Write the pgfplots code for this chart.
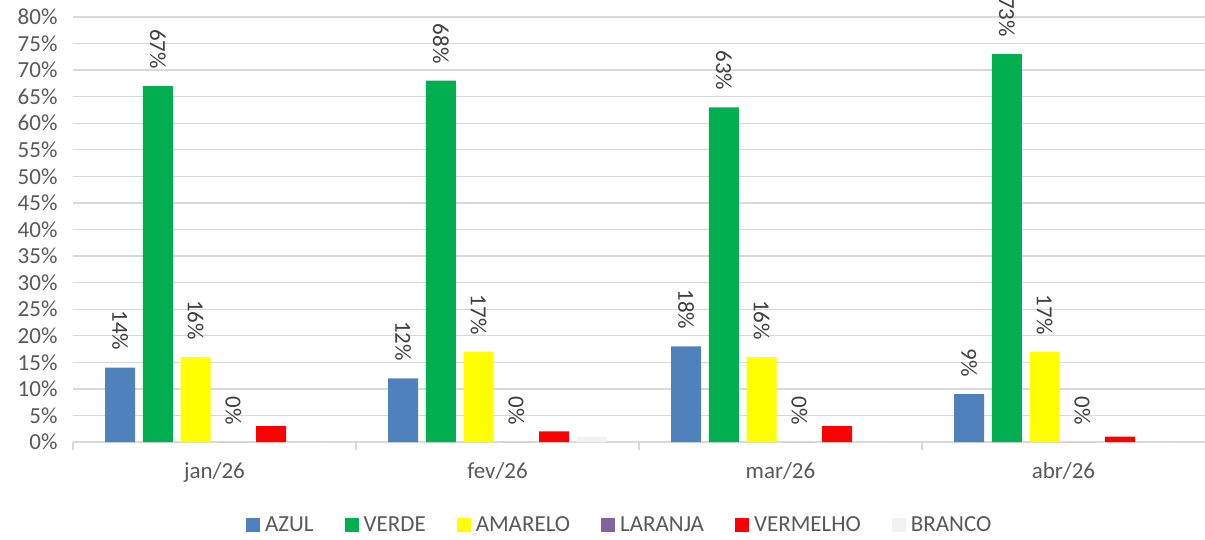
\documentclass[border=0pt]{standalone}
\usepackage{fontspec}
\setmainfont{Carlito}
\usepackage{pgfplots}
\pgfplotsset{compat=1.18}
\definecolor{cAzul}{HTML}{4F81BD}
\definecolor{cVerde}{HTML}{00B050}
\definecolor{cAmarelo}{HTML}{FFFF00}
\definecolor{cLaranja}{HTML}{8064A2}
\definecolor{cVermelho}{HTML}{FF0000}
\definecolor{cBranco}{HTML}{F2F2F2}
\definecolor{gridc}{HTML}{D9D9D9}
\definecolor{txt}{HTML}{595959}
\definecolor{lbl}{HTML}{404040}
\begin{document}
\begin{tikzpicture}
\useasboundingbox (0,0) rectangle (1205pt,539pt);
\begin{axis}[
  at={(73pt,97pt)}, anchor=south west,
  scale only axis, width=1132pt, height=425pt,
  ybar=7.7pt, bar width=30pt,
  xmin=-0.5, xmax=3.5, ymin=0, ymax=80,
  enlargelimits=false, clip=false,
  axis x line*=bottom, axis y line*=left,
  y axis line style={draw=none},
  x axis line style={draw=gridc, line width=1.2pt},
  ytick={0,5,...,80},
  yticklabel={\pgfmathprintnumber{\tick}\%},
  ymajorgrids, grid style={draw=gridc, line width=1.3pt},
  ytick style={draw=none},
  yticklabel style={font=\fontsize{23}{27}\selectfont, text=txt, xshift=-12pt},
  xtick={-0.5,0.5,1.5,2.5},
  xticklabels={jan/26,fev/26,mar/26,abr/26},
  xtick style={draw=gridc, line width=1.2pt},
  xtick align=outside, major tick length=8pt,
  xticklabel style={font=\fontsize{23}{27}\selectfont, text=txt, xshift=141.5pt, yshift=-9pt},
  /pgf/number format/assume math mode=true,
  legend columns=-1,
  legend style={at={(0.483,-0.195)}, anchor=center, draw=none, fill=none,
    font=\fontsize{23}{27}\selectfont, text=txt,
    /tikz/every odd column/.append style={column sep=3pt},
    /tikz/every even column/.append style={column sep=29pt}},
  legend image code/.code={\fill[#1] (0pt,-7pt) rectangle (14pt,7pt);},
  every node near coord/.append style={rotate=-90, anchor=east, inner xsep=17pt,
    font=\fontsize{23}{27}\selectfont, text=lbl},
  nodes near coords={\pgfmathprintnumber[fixed,precision=0]{\pgfplotspointmeta}\%},
]
\addplot[fill=cAzul, draw=none] coordinates {(0,14) (1,12) (2,18) (3,9)};
\addlegendentry{AZUL}
\addplot[fill=cVerde, draw=none] coordinates {(0,67) (1,68) (2,63) (3,73)};
\addlegendentry{VERDE}
\addplot[fill=cAmarelo, draw=none] coordinates {(0,16) (1,17) (2,16) (3,17)};
\addlegendentry{AMARELO}
\addplot[fill=cLaranja, draw=none] coordinates {(0,0) (1,0) (2,0) (3,0)};
\addlegendentry{LARANJA}
\addplot[fill=cVermelho, draw=none, nodes near coords={}] coordinates {(0,3) (1,2) (2,3) (3,1)};
\addlegendentry{VERMELHO}
\addplot[fill=cBranco, draw=none, nodes near coords={}] coordinates {(0,0) (1,1) (2,0) (3,0)};
\addlegendentry{BRANCO}
\end{axis}
\end{tikzpicture}
\end{document}
